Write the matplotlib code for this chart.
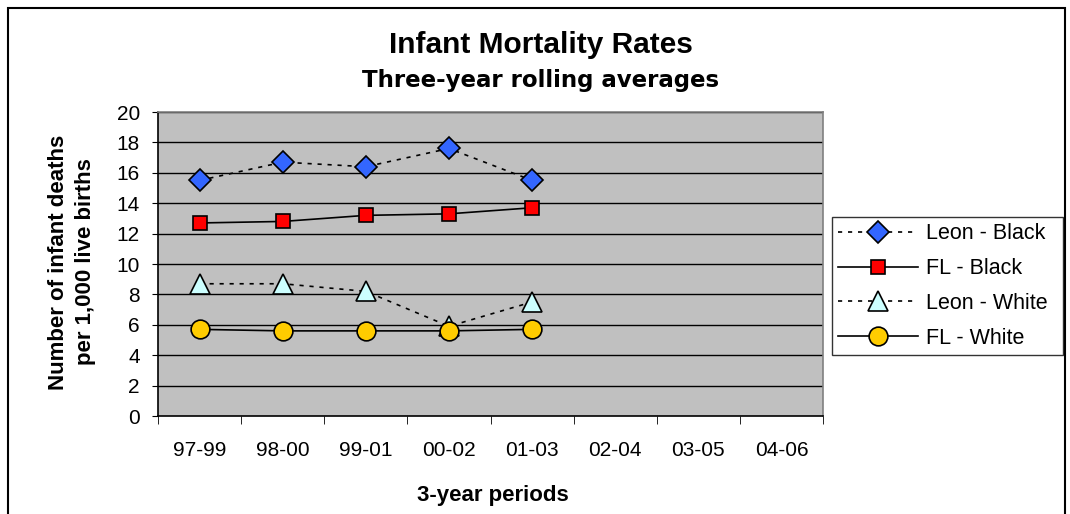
import matplotlib
matplotlib.use("Agg")
import matplotlib.pyplot as plt
from matplotlib.patches import Rectangle
import numpy as np

plt.rcParams['font.family'] = ['Liberation Sans', 'DejaVu Sans']

periods = ["97-99", "98-00", "99-01", "00-02", "01-03", "02-04", "03-05", "04-06"]
leon_black = [15.5, 16.7, 16.4, 17.6, 15.5]
fl_black = [12.7, 12.8, 13.2, 13.3, 13.7]
leon_white = [8.7, 8.7, 8.2, 5.9, 7.5]
fl_white = [5.7, 5.6, 5.6, 5.6, 5.7]
yticks = list(range(0, 21, 2))

fig = plt.figure(figsize=(10.7, 5.14), dpi=100)
fig.patch.set_facecolor('white')
ax = fig.add_axes([158/1070, 1-416/514, (823-158)/1070, (416-112)/514])
ax.set_facecolor('#C0C0C0')

x = np.arange(len(leon_black))
dot = (0, (2.5, 3.5))
ax.plot(x, leon_black, linestyle=dot, color='black', lw=1.2, marker='D', ms=11,
        mfc='#3366FF', mec='black', mew=1.2, label='Leon - Black', zorder=3)
ax.plot(x, fl_black, linestyle='-', color='black', lw=1.2, marker='s', ms=10,
        mfc='#FF0000', mec='black', mew=1.2, label='FL - Black', zorder=3)
ax.plot(x, leon_white, linestyle=dot, color='black', lw=1.2, marker='^', ms=14.5,
        mfc='#CCFFFF', mec='black', mew=1.2, label='Leon - White', zorder=3)
ax.plot(x, fl_white, linestyle='-', color='black', lw=1.2, marker='o', ms=13.5,
        mfc='#FFCC00', mec='black', mew=1.2, label='FL - White', zorder=4)

ax.set_xlim(-0.5, len(periods) - 0.5)
ax.set_ylim(0, 20)
ax.set_yticks(yticks)
ax.set_yticklabels([str(v) for v in yticks], fontsize=15)
ax.set_xticks(np.arange(len(periods)))
ax.set_xticklabels(periods, fontsize=15)
ax.tick_params(axis='x', which='major', length=0, pad=18)
ax.set_xticks(np.arange(len(periods) + 1) - 0.5, minor=True)
ax.tick_params(axis='x', which='minor', length=6, direction='out', color='black')
ax.tick_params(axis='y', length=4, direction='out', color='black', pad=9)
for yv in yticks[1:]:
    ax.axhline(yv, color='black', lw=1.0, zorder=1)
ax.spines['left'].set_color('black')
ax.spines['bottom'].set_color('black')
ax.spines['top'].set_color('#808080')
ax.spines['right'].set_color('#808080')
for s in ax.spines.values():
    s.set_linewidth(1.2)

fig.text(72/1070, 1-262/514, "Number of infant deaths\nper 1,000 live births", rotation=90,
         ha='center', va='center', multialignment='center', fontsize=16,
         fontweight='bold', linespacing=1.35)
fig.text(493/1070, 1-495/514, "3-year periods", ha='center', va='center',
         fontsize=16, fontweight='bold')

fig.text(541/1070, 1-45/514, "Infant Mortality Rates", ha='center', va='center',
         fontsize=21.5, fontweight='bold')
fig.text(541/1070, 1-80/514, "Three-year rolling averages", ha='center', va='center',
         fontsize=16.5, fontweight='bold', family=['DejaVu Sans'])

leg = ax.legend(loc='upper left', bbox_to_anchor=(832/1070, 1-357/514, (1063-832)/1070, (357-217)/514),
                bbox_transform=fig.transFigure, mode='expand', fontsize=15.5, frameon=True,
                fancybox=False, edgecolor='black', borderaxespad=0, handlelength=3.7,
                labelspacing=0.64, handletextpad=0.35, borderpad=0.3)
leg.get_frame().set_linewidth(1.0)

fig.patches.append(Rectangle((8/1070, -0.05), (1065-8)/1070, 1-8/514+0.05,
                             transform=fig.transFigure, fill=False, edgecolor='black',
                             lw=1.5, clip_on=False))

fig.savefig("out.png", dpi=100)
